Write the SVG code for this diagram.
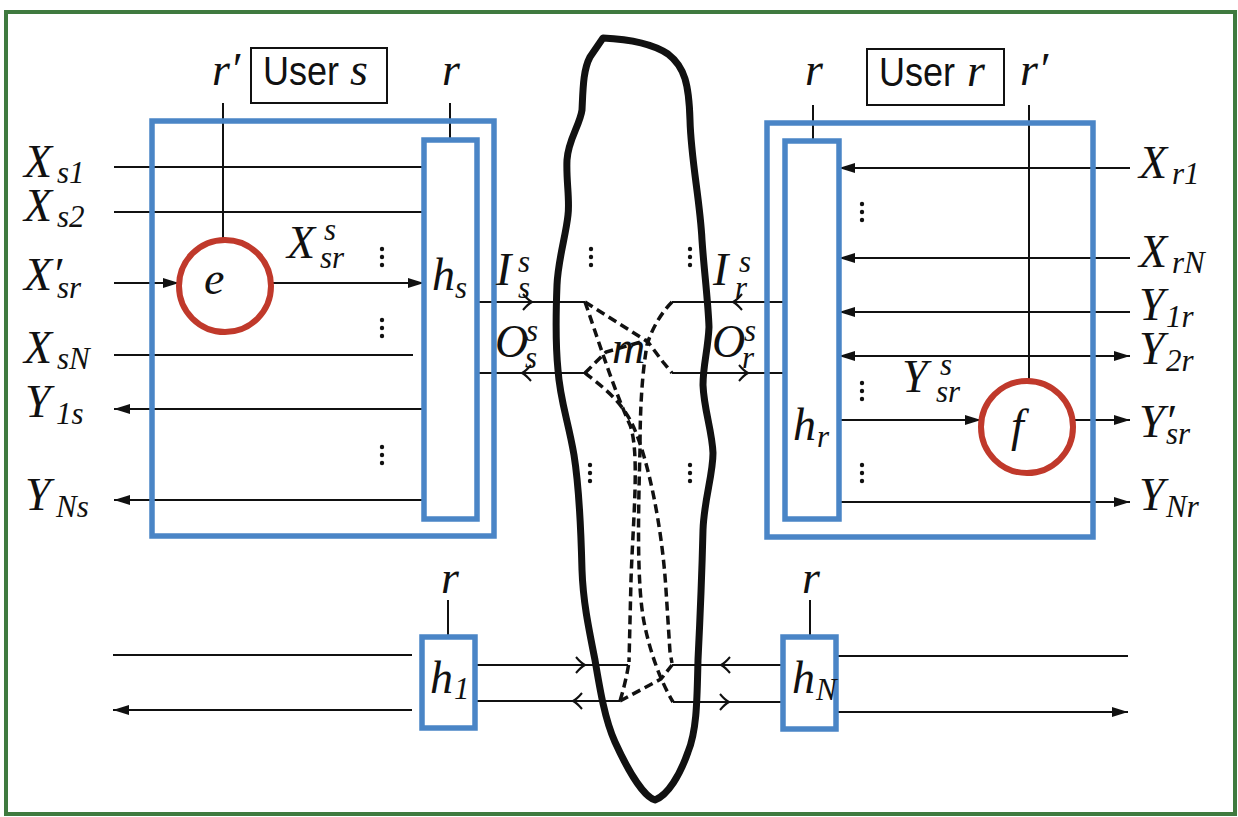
<svg xmlns="http://www.w3.org/2000/svg" width="1238" height="817" viewBox="0 0 1238 817">
<defs>
<style>
.blue{fill:none;stroke:#4a85c6;stroke-width:5.5}
.red{fill:none;stroke:#c0392b;stroke-width:6}
.box{fill:none;stroke:#111;stroke-width:2}
.ln{fill:none;stroke:#111;stroke-width:2}
.arr{marker-end:url(#ah)}
.arr2{marker-start:url(#ah);marker-end:url(#ah)}
.dash{fill:none;stroke:#111;stroke-width:3.5;stroke-dasharray:9 5}
.blob{fill:none;stroke:#111;stroke-width:7;stroke-linejoin:round}
.m{font-family:"Liberation Serif",serif;font-style:italic;font-size:46px;fill:#111}
.s{font-size:31px}
.sans{font-family:"Liberation Sans",sans-serif;font-style:normal;font-size:40px;fill:#111}
.dot{fill:#111}
</style>
<marker id="ah" viewBox="0 0 16 10" refX="16" refY="5" markerWidth="16" markerHeight="10" markerUnits="userSpaceOnUse" orient="auto-start-reverse"><path d="M0,0 L16,5 L0,10 z" fill="#111"/></marker>
<path id="chev" d="M-9,-8 Q-4,-2 0,0 Q-4,2 -9,8" fill="none" stroke="#111" stroke-width="2"/>
<g id="dots3"><circle cx="0" cy="-8" r="2.2"/><circle cx="0" cy="0" r="2.2"/><circle cx="0" cy="8" r="2.2"/></g>
</defs>
<rect x="0" y="0" width="1238" height="817" fill="#fff"/>
<rect x="6" y="12" width="1229" height="802" fill="none" stroke="#3f7a3f" stroke-width="4"/>

<g id="connectors">
  <line class="ln" x1="223" y1="103" x2="223" y2="240"/>
  <line class="ln" x1="450" y1="103" x2="450" y2="140"/>
  <line class="ln" x1="114" y1="167" x2="424" y2="167"/>
  <line class="ln" x1="114" y1="212" x2="424" y2="212"/>
  <line class="ln arr" x1="114" y1="283" x2="179" y2="283"/>
  <line class="ln arr" x1="272" y1="283" x2="424" y2="283"/>
  <line class="ln" x1="114" y1="355" x2="413" y2="355"/>
  <line class="ln arr" x1="424" y1="409" x2="114" y2="409"/>
  <line class="ln arr" x1="424" y1="500" x2="114" y2="500"/>
  <line class="ln" x1="477" y1="302" x2="585" y2="302"/>
  <line class="ln" x1="477" y1="373" x2="585" y2="373"/>
  <use href="#chev" transform="translate(532,302)"/>
  <use href="#chev" transform="translate(522,373) scale(-1,1)"/>
  <line class="ln" x1="813" y1="105" x2="813" y2="141"/>
  <line class="ln" x1="1029" y1="105" x2="1029" y2="380"/>
  <line class="ln arr" x1="1130" y1="168" x2="839" y2="168"/>
  <line class="ln arr" x1="1130" y1="258" x2="839" y2="258"/>
  <line class="ln arr" x1="1130" y1="312" x2="839" y2="312"/>
  <line class="ln arr2" x1="839" y1="356" x2="1130" y2="356"/>
  <line class="ln arr" x1="839" y1="420" x2="981" y2="420"/>
  <line class="ln arr" x1="1073" y1="420" x2="1130" y2="420"/>
  <line class="ln arr" x1="839" y1="502" x2="1130" y2="502"/>
  <line class="ln" x1="672" y1="302" x2="785" y2="302"/>
  <line class="ln" x1="672" y1="373" x2="785" y2="373"/>
  <use href="#chev" transform="translate(733,302) scale(-1,1)"/>
  <use href="#chev" transform="translate(748,373)"/>
  <line class="ln" x1="448" y1="600" x2="448" y2="637"/>
  <line class="ln" x1="113" y1="655" x2="412" y2="655"/>
  <line class="ln arr" x1="412" y1="710" x2="113" y2="710"/>
  <line class="ln" x1="475" y1="665" x2="628" y2="665"/>
  <line class="ln" x1="475" y1="701" x2="620" y2="701"/>
  <use href="#chev" transform="translate(585,665)"/>
  <use href="#chev" transform="translate(573,701) scale(-1,1)"/>
  <line class="ln" x1="810" y1="600" x2="810" y2="637"/>
  <line class="ln" x1="672" y1="665" x2="783" y2="665"/>
  <line class="ln" x1="673" y1="702" x2="783" y2="702"/>
  <use href="#chev" transform="translate(721,665) scale(-1,1)"/>
  <use href="#chev" transform="translate(729,702)"/>
  <line class="ln" x1="836" y1="656" x2="1128" y2="656"/>
  <line class="ln arr" x1="836" y1="712" x2="1128" y2="712"/>
  <path class="dash" d="M585,302 L648,342 L663,362 L672,373"/>
  <path class="dash" d="M585,302 C595,330 612,385 630,425 C640,452 633,520 631,580 L629,662"/>
  <path class="dash" d="M585,373 C600,385 622,400 634,428 C648,460 662,525 666,590 L670,652 L672,663"/>
  <path class="dash" d="M585,373 L606,352 L648,340"/>
  <path class="dash" d="M672,302 C662,312 652,328 647,345 C641,380 640,420 640,450 C638,520 637,585 644,622 C650,652 660,680 673,702"/>
  <path class="dash" d="M620,701 C624,688 627,675 629,662"/>
  <path class="dash" d="M620,701 L661,679 L672,665"/>
</g>

<g id="network">
  <path class="blob" d="M603,38 C625,39 650,42 668,54 C685,67 689,85 690,120 C691,160 700,200 702,240 C704,270 708,300 709,327 C708,350 703,365 703,385 C704,410 712,430 713,453 C713,475 704,500 703,530 C702,570 700,620 698,660 C697,700 697,730 688,752 C680,775 668,795 655,800 C645,797 630,775 615,742 C605,720 600,690 595,660 C588,625 583,600 582,570 C581,530 578,480 574,455 C568,420 560,400 558,370 C555,340 556,310 557,285 C558,260 566,235 568,215 C570,200 566,180 567,160 C568,140 580,125 582,110 C583,90 583,70 590,57 Z"/>
  <text class="m" x="612" y="363" font-size="44">m</text>
</g>

<g id="dots" class="dot">
  <use href="#dots3" x="382" y="257"/>
  <use href="#dots3" x="382" y="328"/>
  <use href="#dots3" x="382" y="455"/>
  <use href="#dots3" x="591" y="257"/>
  <use href="#dots3" x="690" y="257"/>
  <use href="#dots3" x="590" y="473"/>
  <use href="#dots3" x="690" y="473"/>
  <use href="#dots3" x="862" y="212"/>
  <use href="#dots3" x="862" y="391"/>
  <use href="#dots3" x="862" y="473"/>
</g>

<g id="user-s">
  <rect class="blue" x="152" y="121" width="342" height="415"/>
  <rect class="box" x="251" y="48" width="136" height="55"/>
  <text class="m" x="263" y="85"><tspan class="sans" textLength="76" lengthAdjust="spacingAndGlyphs">User</tspan><tspan x="350" y="85">s</tspan></text>
  <text class="m" x="212" y="85">r′</text>
  <text class="m" x="442" y="85">r</text>
  <text class="m" x="287" y="258">X<tspan class="s" x="324" y="240">s</tspan><tspan class="s" x="320" y="268">sr</tspan></text>
</g>

<g id="enc-e">
  <circle class="red" cx="225" cy="286" r="46"/>
  <text class="m" x="204" y="294">e</text>
</g>

<g id="h-s">
  <rect class="blue" x="424" y="140" width="53" height="379"/>
  <text class="m" x="432" y="290">h<tspan class="s" x="455" y="298">s</tspan></text>
</g>

<g id="inputs-s">
  <text class="m" x="24" y="177">X<tspan class="s" x="57" y="183">s1</tspan></text>
  <text class="m" x="24" y="221">X<tspan class="s" x="57" y="227">s2</tspan></text>
  <text class="m" x="24" y="290">X′<tspan class="s" x="57" y="298">sr</tspan></text>
  <text class="m" x="24" y="363">X<tspan class="s" x="57" y="369">sN</tspan></text>
  <text class="m" x="25" y="417">Y<tspan class="s" x="56" y="424">1s</tspan></text>
  <text class="m" x="25" y="510">Y<tspan class="s" x="56" y="517">Ns</tspan></text>
</g>

<g id="ports-s">
  <text class="m" x="496" y="285">I<tspan class="s" x="518" y="272">s</tspan><tspan class="s" x="518" y="298">s</tspan></text>
  <text class="m" x="495" y="357">O<tspan class="s" x="526" y="341">s</tspan><tspan class="s" x="525" y="368">s</tspan></text>
</g>

<g id="ports-r">
  <text class="m" x="713" y="285">I<tspan class="s" x="739" y="272">s</tspan><tspan class="s" x="735" y="298">r</tspan></text>
  <text class="m" x="712" y="357">O<tspan class="s" x="744" y="341">s</tspan><tspan class="s" x="742" y="368">r</tspan></text>
</g>

<g id="user-r">
  <rect class="blue" x="767" y="123" width="326" height="414"/>
  <rect class="box" x="867" y="49" width="137" height="56"/>
  <text class="m" x="879" y="86"><tspan class="sans" textLength="76" lengthAdjust="spacingAndGlyphs">User</tspan><tspan x="967" y="86">r</tspan></text>
  <text class="m" x="805" y="85">r</text>
  <text class="m" x="1020" y="85">r′</text>
  <text class="m" x="902" y="392">Y<tspan class="s" x="940" y="375">s</tspan><tspan class="s" x="936" y="402">sr</tspan></text>
</g>

<g id="h-r">
  <rect class="blue" x="785" y="141" width="54" height="378"/>
  <text class="m" x="793" y="440">h<tspan class="s" x="817" y="447">r</tspan></text>
</g>

<g id="dec-f">
  <circle class="red" cx="1027" cy="427" r="46"/>
  <text class="m" x="1011" y="441">f</text>
</g>

<g id="outputs-r">
  <text class="m" x="1139" y="178">X<tspan class="s" x="1172" y="184">r1</tspan></text>
  <text class="m" x="1139" y="267">X<tspan class="s" x="1172" y="273">rN</tspan></text>
  <text class="m" x="1139" y="320">Y<tspan class="s" x="1166" y="327">1r</tspan></text>
  <text class="m" x="1139" y="364">Y<tspan class="s" x="1166" y="371">2r</tspan></text>
  <text class="m" x="1139" y="437">Y′<tspan class="s" x="1166" y="444">sr</tspan></text>
  <text class="m" x="1139" y="510">Y<tspan class="s" x="1166" y="517">Nr</tspan></text>
</g>

<g id="h-1">
  <rect class="blue" x="422" y="637" width="53" height="91"/>
  <text class="m" x="441" y="593">r</text>
  <text class="m" x="430" y="693">h<tspan class="s" x="454" y="699">1</tspan></text>
</g>

<g id="h-N">
  <rect class="blue" x="783" y="637" width="53" height="92"/>
  <text class="m" x="802" y="593">r</text>
  <text class="m" x="792" y="693">h<tspan class="s" x="816" y="700">N</tspan></text>
</g>
</svg>
